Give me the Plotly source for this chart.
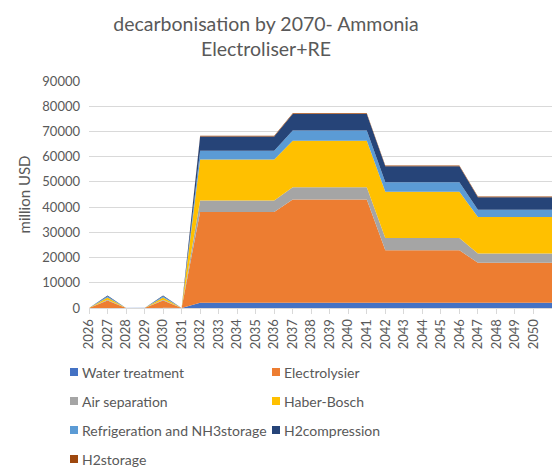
import plotly.graph_objects as go

# ---------------- data ----------------
years = [2026, 2027, 2028, 2029, 2030, 2031, 2032, 2033, 2034, 2035, 2036, 2037, 2038,
         2039, 2040, 2041, 2042, 2043, 2044, 2045, 2046, 2047, 2048, 2049, 2050, 2051]
tick_years = [2026, 2027, 2028, 2029, 2030, 2031, 2032, 2033, 2034, 2035, 2036, 2037, 2038,
              2039, 2040, 2041, 2042, 2043, 2044, 2045, 2046, 2047, 2048, 2049, 2050]

water_treatment = [0, 100, 0, 0, 100, 0, 2100, 2100, 2100, 2100, 2100, 2400, 2400,
                   2400, 2400, 2400, 2400, 2400, 2400, 2400, 2400, 2100, 2100, 2100, 2100, 2100]
electrolysier = [0, 2900, 0, 0, 2900, 0, 36000, 36000, 36000, 36000, 36000, 40600, 40600,
                 40600, 40600, 40600, 20500, 20500, 20500, 20500, 20500, 15800, 15800, 15800, 15800, 15800]
air_separation = [0, 300, 0, 0, 300, 0, 4500, 4500, 4500, 4500, 4500, 4900, 4900,
                  4900, 4900, 4900, 4900, 4900, 4900, 4900, 4900, 3700, 3700, 3700, 3700, 3700]
haber_bosch = [0, 900, 0, 0, 900, 0, 16300, 16300, 16300, 16300, 16300, 18400, 18400,
               18400, 18400, 18400, 18300, 18300, 18300, 18300, 18300, 14500, 14500, 14500, 14500, 14500]
refrigeration = [0, 500, 0, 0, 500, 0, 3400, 3400, 3400, 3400, 3400, 4100, 4100,
                 4100, 4100, 4100, 3800, 3800, 3800, 3800, 3800, 2900, 2900, 2900, 2900, 2900]
h2_compression = [0, 300, 0, 0, 300, 0, 5700, 5700, 5700, 5700, 5700, 6500, 6500,
                  6500, 6500, 6500, 6300, 6300, 6300, 6300, 6300, 4900, 4900, 4900, 4900, 4900]
h2_storage = [0, 0, 0, 0, 0, 0, 300, 300, 300, 300, 300, 300, 300,
              300, 300, 300, 300, 300, 300, 300, 300, 300, 300, 300, 300, 300]

series_names = ["Water treatment", "Electrolysier", "Air separation", "Haber-Bosch",
                "Refrigeration and NH3storage", "H2compression", "H2storage"]
series_values = [water_treatment, electrolysier, air_separation, haber_bosch,
                 refrigeration, h2_compression, h2_storage]
series_colors = ["#4472C4", "#ED7D31", "#A5A5A5", "#FFC000", "#5B9BD5", "#264478", "#9E480E"]

y_ticks = [0, 10000, 20000, 30000, 40000, 50000, 60000, 70000, 80000, 90000]

# ---------------- layout constants ----------------
W, H = 554, 475
L, R, T, B = 89, 2, 81, 167
FONT = "Lato"
GREY = "#595959"

fig = go.Figure()
for name, vals, col in zip(series_names, series_values, series_colors):
    fig.add_trace(go.Scatter(
        x=years, y=vals, name=name, stackgroup="one", mode="lines",
        line=dict(width=0, color=col), fillcolor=col, showlegend=False,
        hoverinfo="x+y+name"))

pw = W - L - R
ph = H - T - B


def px_x(px):
    return (px - L) / pw


def px_y(py):
    return (H - B - py) / ph


# manual legend, two columns like Excel
col_x = [70, 272]
row_y = [372, 401, 430, 459]
shapes = []
annotations = []
for i, (name, col) in enumerate(zip(series_names, series_colors)):
    cx = col_x[i % 2]
    ry = row_y[i // 2]
    shapes.append(dict(type="rect", xref="paper", yref="paper",
                       x0=px_x(cx), x1=px_x(cx + 8), y0=px_y(ry + 4), y1=px_y(ry - 4),
                       fillcolor=col, line=dict(width=0)))
    annotations.append(dict(text=name, xref="paper", yref="paper",
                            x=px_x(cx + 10), y=px_y(ry), xanchor="left", yanchor="middle",
                            showarrow=False, font=dict(family=FONT, size=14, color=GREY)))

fig.update_layout(
    width=W, height=H,
    margin=dict(l=L, r=R, t=T, b=B, autoexpand=False),
    paper_bgcolor="white", plot_bgcolor="white",
    title=dict(text="decarbonisation by 2070- Ammonia<br>Electroliser+RE",
               x=266 / W, xanchor="center", y=1 - 31 / H, yanchor="middle",
               font=dict(family=FONT, size=19.5, color=GREY)),
    xaxis=dict(range=[2026, 2051], tickmode="array", tickvals=tick_years,
               ticktext=[str(y) for y in tick_years], tickangle=-90,
               showgrid=False, showline=True, linecolor="#D9D9D9", linewidth=1,
               ticks="outside", ticklen=5, tickcolor="#D9D9D9",
               tickfont=dict(family=FONT, size=13, color=GREY), zeroline=False),
    yaxis=dict(range=[0, 90000], tickmode="array", tickvals=y_ticks,
               ticktext=[str(v) for v in y_ticks],
               showgrid=True, gridcolor="#D9D9D9", gridwidth=1, zeroline=False,
               showline=False, ticks="", ticklabelstandoff=8,
               tickfont=dict(family=FONT, size=13, color=GREY),
               title=dict(text="million USD", standoff=8,
                          font=dict(family=FONT, size=15, color=GREY))),
    shapes=shapes, annotations=annotations,
    showlegend=False,
)

fig.write_html("out.html", config={"displayModeBar": False},
               post_script="document.body.style.margin='0';document.body.style.overflow='hidden';")
